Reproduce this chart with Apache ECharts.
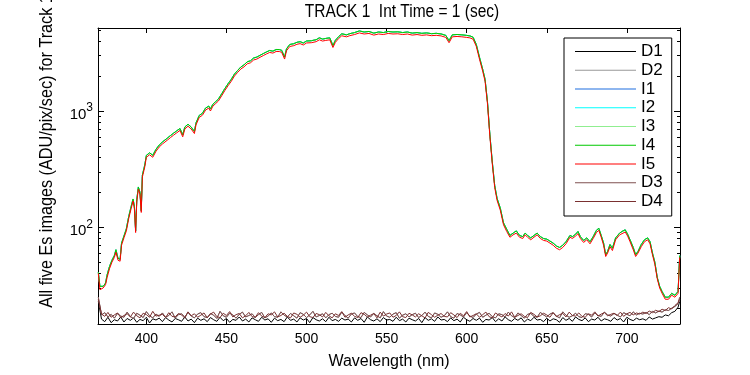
<!DOCTYPE html>
<html><head><meta charset="utf-8">
<script src="https://cdn.jsdelivr.net/npm/echarts@6/dist/echarts.min.js"></script>
<style>html,body{margin:0;padding:0;background:#fff}#c{width:750px;height:375px}</style>
</head><body><div id="c"></div>
<script>
const FONT = "'Liberation Sans',Arial,sans-serif";

// Illuminated-frame wavelengths (nm)
const wl = [
 370, 371, 373, 374.5, 375.5, 377, 378.5, 380, 381, 382.3,
 383.6, 384.5, 386, 387.5, 389, 390.5, 391.7, 392.5, 393.3, 394,
 395, 396, 396.8, 397.5, 399, 400, 402, 404, 406, 408,
 410, 411, 413, 415, 417, 419, 421, 422.7, 424, 426,
 427, 428, 430, 431, 433, 434, 435, 437, 439, 440,
 441.5, 443, 445, 447, 449, 451, 453, 455, 457, 459,
 461, 463, 465, 467, 469, 471, 473, 475, 477, 479,
 481, 483, 484.5, 486.3, 487.5, 489.5, 492, 494, 496, 498,
 500, 503, 506, 508, 510, 512, 514.5, 516.5, 518, 520,
 522, 525, 527, 530, 533, 536, 539, 542, 545, 548,
 551, 554, 557, 560, 563, 566, 569, 572, 575, 578,
 581, 584, 587, 589, 591, 594, 597, 600, 602, 604,
 606, 608, 610, 611.5, 613, 614.5, 616, 617.5, 619, 621,
 623, 625, 627, 629, 631, 633, 635, 636.5, 638, 640,
 642, 644, 646, 648, 650, 652, 654, 656, 658, 660,
 662, 664.5, 666, 668, 669.5, 671, 673, 675, 677, 679,
 681, 682.5, 684, 685.5, 686.8, 688, 689.5, 691, 693, 695.5,
 697, 699, 700.5, 702, 704, 705.5, 707, 709, 711, 713,
 714.5, 716, 717.5, 719, 720.5, 722, 724, 726, 728, 730,
 732, 733
];
// I5 (red, drawn on top of the illuminated frames)
const i5 = [
 40, 29, 30, 32, 37, 44, 50, 55, 61, 52,
 51, 70, 81, 93, 119, 145, 168, 146, 90, 165,
 213, 193, 134, 270, 330, 400, 420, 400, 450, 490,
 520, 500, 560, 590, 620, 650, 680, 600, 700, 740,
 760, 700, 640, 760, 880, 860, 920, 1020, 1060, 1000,
 1100, 1150, 1220, 1350, 1500, 1650, 1800, 2000, 2150, 2300,
 2400, 2550, 2600, 2750, 2800, 2900, 3000, 3100, 3190, 3150,
 3250, 3250, 3200, 2800, 3300, 3590, 3650, 3750, 3800, 3700,
 3850, 3870, 3950, 4100, 4000, 4050, 4100, 3520, 3900, 4200,
 4440, 4350, 4450, 4550, 4700, 4600, 4650, 4500, 4600, 4550,
 4650, 4600, 4620, 4550, 4600, 4500, 4550, 4480, 4520, 4450,
 4480, 4430, 4300, 3870, 4350, 4380, 4350, 4300, 4260, 4150,
 3600, 2790, 2200, 1800, 1150, 600, 350, 220, 170, 140,
 105, 92, 82, 86, 89, 82, 80, 86, 82, 78,
 82, 86, 80, 77, 76, 73, 70, 66, 64, 67,
 72, 82, 80, 84, 88, 80, 74, 78, 72, 80,
 90, 94, 82, 70, 56, 60, 68, 63, 78, 86,
 88, 91, 84, 75, 64, 56, 60, 68, 75, 78,
 72, 58, 48, 36, 30, 27, 24, 24, 26, 25,
 27, 55
];
// I1-I4 (slightly above I5; green fringe)
const iUpper = [
 41, 31, 31, 33, 39, 46, 52, 57, 64, 54,
 53, 73, 84, 97, 124, 151, 175, 152, 93, 172,
 222, 200, 139, 281, 343, 415, 437, 416, 468, 510,
 541, 520, 583, 614, 645, 676, 707, 624, 728, 770,
 790, 728, 666, 790, 915, 894, 957, 1061, 1102, 1040,
 1144, 1196, 1269, 1404, 1560, 1716, 1872, 2080, 2236, 2392,
 2496, 2652, 2704, 2860, 2912, 3016, 3120, 3224, 3318, 3276,
 3380, 3380, 3328, 2912, 3432, 3734, 3796, 3900, 3952, 3848,
 4004, 4025, 4108, 4264, 4160, 4212, 4264, 3661, 4056, 4368,
 4618, 4524, 4628, 4732, 4888, 4784, 4836, 4680, 4784, 4732,
 4836, 4784, 4805, 4732, 4784, 4680, 4732, 4659, 4701, 4628,
 4659, 4607, 4472, 4025, 4524, 4555, 4524, 4472, 4430, 4316,
 3744, 2902, 2288, 1872, 1196, 624, 364, 229, 177, 146,
 109, 96, 85, 89, 93, 85, 83, 89, 85, 81,
 85, 89, 83, 80, 79, 76, 73, 69, 67, 70,
 75, 85, 83, 87, 92, 83, 77, 81, 75, 83,
 94, 98, 85, 73, 58, 62, 71, 66, 81, 89,
 92, 95, 87, 78, 67, 58, 62, 71, 78, 81,
 75, 60, 50, 37, 31, 28, 25, 25, 27, 26,
 28, 57
];

// Dark-frame wavelengths (nm)
const wlDark = [
 370, 372, 374, 376, 378, 380, 382, 384, 386, 388,
 390, 392, 394, 396, 398, 400, 402, 404, 406, 408,
 410, 412, 414, 416, 418, 420, 422, 424, 426, 428,
 430, 432, 434, 436, 438, 440, 442, 444, 446, 448,
 450, 452, 454, 456, 458, 460, 462, 464, 466, 468,
 470, 472, 474, 476, 478, 480, 482, 484, 486, 488,
 490, 492, 494, 496, 498, 500, 502, 504, 506, 508,
 510, 512, 514, 516, 518, 520, 522, 524, 526, 528,
 530, 532, 534, 536, 538, 540, 542, 544, 546, 548,
 550, 552, 554, 556, 558, 560, 562, 564, 566, 568,
 570, 572, 574, 576, 578, 580, 582, 584, 586, 588,
 590, 592, 594, 596, 598, 600, 602, 604, 606, 608,
 610, 612, 614, 616, 618, 620, 622, 624, 626, 628,
 630, 632, 634, 636, 638, 640, 642, 644, 646, 648,
 650, 652, 654, 656, 658, 660, 662, 664, 666, 668,
 670, 672, 674, 676, 678, 680, 682, 684, 686, 688,
 690, 692, 694, 696, 698, 700, 702, 704, 706, 708,
 710, 712, 714, 716, 718, 720, 722, 724, 726, 728,
 730, 732, 733
];
// D1 (black)
const darkA = [
 23, 16.2, 15.4, 16.8, 15.1, 16.0, 15.6, 16.9, 15.3, 16.4,
 15.8, 16.6, 15.2, 16.1, 15.7, 16.8, 15.0, 16.3, 15.9, 16.5,
 15.4, 16.7, 15.9, 15.3, 16.4, 16.0, 15.5, 16.9, 15.6, 16.2,
 15.1, 16.5, 15.8, 16.3, 15.4, 16.7, 16.0, 15.5, 16.8, 15.7,
 16.4, 15.2, 16.1, 15.8, 16.9, 15.6, 16.2, 15.3, 16.6, 16.0,
 15.5, 16.8, 15.9, 16.3, 15.2, 16.5, 15.7, 16.1, 15.4, 16.9,
 15.8, 16.2, 15.3, 16.6, 15.9, 16.4, 15.1, 16.7, 16.0, 15.6,
 16.3, 15.4, 16.8, 15.7, 16.1, 15.5, 16.5, 15.9, 16.2, 15.3,
 16.6, 15.8, 16.4, 15.2, 16.9, 16.0, 15.6, 16.3, 15.4, 16.7,
 15.9, 16.1, 15.5, 16.8, 15.7, 16.2, 15.3, 16.5, 16.0, 15.6,
 16.4, 15.1, 16.7, 15.8, 16.3, 15.5, 16.9, 15.9, 16.1, 15.4,
 16.6, 15.7, 16.2, 15.3, 16.8, 16.0, 15.5, 16.4, 15.8, 16.5,
 15.2, 16.1, 15.9, 16.7, 15.4, 16.3, 15.6, 16.9, 16.0, 15.5,
 16.4, 15.8, 16.6, 15.3, 16.2, 15.7, 16.8, 15.9, 16.1, 15.4,
 16.5, 15.6, 16.3, 16.0, 15.2, 16.7, 15.8, 16.4, 15.5, 16.9,
 16.1, 15.7, 16.6, 15.4, 16.2, 15.9, 16.8, 15.6, 16.3, 16.0,
 15.5, 16.7, 15.9, 16.4, 15.3, 16.8, 16.1, 15.7, 16.5, 16.0,
 16.3, 15.8, 16.9, 16.2, 16.6, 17.0, 16.8, 17.6, 17.3, 18.4,
 18.9, 20.5, 23
];
// D2 and D3
const darkB = [
 25, 17.6, 18.4, 16.9, 17.8, 16.5, 18.1, 17.2, 16.8, 18.6,
 17.0, 16.4, 18.2, 17.5, 16.7, 18.8, 17.3, 16.6, 17.9, 17.1,
 18.3, 16.8, 17.4, 18.7, 16.5, 17.7, 18.0, 16.9, 18.5, 17.2,
 16.6, 17.9, 18.4, 17.0, 16.7, 18.1, 17.5, 16.4, 18.9, 17.3,
 16.8, 18.2, 17.6, 16.5, 17.8, 18.6, 16.9, 17.4, 18.0, 16.7,
 17.7, 18.5, 16.6, 17.2, 18.3, 17.0, 16.8, 18.7, 17.5, 16.9,
 18.1, 17.3, 16.5, 18.4, 17.8, 16.7, 17.6, 18.9, 16.9, 17.4,
 18.0, 16.6, 17.7, 18.2, 17.1, 16.8, 18.6, 17.4, 16.5, 17.9,
 18.3, 17.0, 16.7, 18.5, 17.6, 16.9, 18.1, 17.3, 16.6, 18.8,
 17.2, 16.8, 17.9, 18.4, 16.5, 17.5, 18.0, 16.9, 17.7, 18.2,
 16.7, 17.4, 18.6, 17.1, 16.6, 18.3, 17.8, 16.8, 17.3, 18.7,
 17.0, 16.5, 18.1, 17.6, 16.9, 18.4, 17.2, 16.7, 17.9, 18.5,
 16.8, 17.5, 18.2, 17.0, 16.6, 18.0, 17.7, 16.9, 18.6, 17.3,
 16.7, 18.3, 17.4, 16.5, 17.8, 18.1, 17.1, 16.8, 18.5, 17.6,
 16.9, 17.9, 18.4, 17.2, 16.6, 18.7, 17.5, 16.8, 17.3, 18.2,
 17.0, 16.7, 18.0, 17.8, 16.9, 18.3, 17.4, 17.1, 18.6, 17.6,
 17.2, 18.1, 17.5, 16.9, 18.4, 17.8, 17.3, 18.7, 17.6, 18.2,
 17.9, 18.5, 17.7, 18.9, 18.3, 19.0, 18.6, 19.5, 19.2, 20.1,
 20.8, 22.0, 24
];
// D4
const darkC = [
 24, 17.9, 17.1, 18.5, 16.8, 17.6, 18.3, 16.7, 17.4, 18.0,
 16.9, 18.6, 17.3, 16.6, 18.2, 17.7, 16.8, 18.9, 17.2, 17.5,
 17.8, 16.7, 18.4, 17.1, 16.9, 18.1, 17.6, 16.5, 18.7, 17.3,
 18.0, 16.8, 17.5, 18.3, 16.6, 17.9, 18.6, 17.0, 16.7, 18.2,
 17.4, 18.8, 16.9, 17.7, 18.1, 16.6, 17.3, 18.5, 17.0, 16.8,
 18.4, 17.2, 16.7, 18.0, 17.6, 18.7, 16.9, 17.4, 18.2, 17.1,
 16.6, 18.3, 17.8, 16.8, 17.5, 18.6, 17.0, 16.7, 18.1, 17.7,
 16.9, 18.5, 17.3, 16.6, 18.0, 17.4, 18.8, 16.8, 17.6, 18.2,
 17.1, 16.7, 18.4, 17.8, 16.9, 17.5, 18.1, 16.6, 18.6, 17.2,
 17.9, 18.3, 16.8, 17.4, 18.7, 17.0, 16.7, 18.2, 17.6, 16.9,
 18.0, 17.3, 16.6, 18.5, 17.7, 16.8, 17.5, 18.1, 17.1, 16.9,
 18.4, 17.6, 16.7, 18.2, 17.3, 18.8, 16.9, 17.4, 18.0, 16.8,
 17.7, 18.6, 17.0, 16.6, 18.3, 17.5, 16.9, 18.1, 17.2, 18.7,
 16.8, 17.4, 18.0, 17.1, 16.7, 18.5, 17.8, 16.9, 17.3, 18.2,
 17.6, 16.8, 18.4, 17.0, 17.7, 18.1, 16.9, 18.6, 17.4, 17.2,
 18.3, 17.1, 16.8, 18.0, 17.5, 18.7, 17.2, 17.9, 18.4, 17.3,
 17.8, 18.2, 17.4, 18.6, 17.1, 18.0, 18.5, 17.6, 18.3, 17.9,
 18.6, 18.1, 19.0, 18.4, 19.3, 18.8, 19.7, 19.2, 20.3, 19.8,
 21.2, 22.4, 25
];

const xTicks = [400, 450, 500, 550, 600, 650, 700];
const yMajor = [100, 1000];
const yMinor = [20, 30, 40, 50, 60, 70, 80, 90, 200, 300, 400, 500, 600, 700, 800, 900, 2000, 3000, 4000, 5000];
const seriesNames = ['D1', 'D2', 'I1', 'I2', 'I3', 'I4', 'I5', 'D3', 'D4'];
const seriesColors = ['#000000', '#999999', '#1f6fe0', '#00ffff', '#90ee90', '#00c800', '#ff0000', '#7f5050', '#7a3030'];
const seriesX = [wlDark, wlDark, wl, wl, wl, wl, wl, wlDark, wlDark];
const seriesY = [darkA, darkB, iUpper, iUpper, iUpper, iUpper, i5, darkB, darkC];

const X_MIN = 369.8, X_MAX = 733.2, Y_MIN = 14.7, Y_MAX = 5180;

const chart = echarts.init(document.getElementById('c'), null, {renderer: 'canvas'});
const axisLine = {show: true, onZero: false, lineStyle: {color: '#000', width: 1}};
const xAx = (pos, labels) => ({
  type: 'value', min: X_MIN, max: X_MAX, position: pos,
  axisLine: axisLine,
  axisTick: {show: true, inside: true, length: 5, customValues: xTicks, lineStyle: {color: '#000'}},
  axisLabel: labels ? {show: true, customValues: xTicks, color: '#000', fontSize: 14, fontFamily: FONT, margin: 8} : {show: false},
  splitLine: {show: false},
  name: labels ? 'Wavelength (nm)' : '', nameLocation: 'middle', nameGap: 30,
  nameTextStyle: {color: '#000', fontSize: 16, fontFamily: FONT}
});
const yAx = (pos, major, labels) => ({
  type: 'log', logBase: 10, min: Y_MIN, max: Y_MAX, position: pos,
  axisLine: major ? axisLine : {show: false},
  axisTick: {show: true, inside: true, length: major ? 6 : 3, customValues: major ? yMajor : yMinor, lineStyle: {color: '#000'}},
  axisLabel: labels ? {
    show: true, customValues: yMajor, margin: 5,
    formatter: v => '{b|10}{s|' + Math.round(Math.log10(v)) + '}',
    rich: {
      b: {fontSize: 15, fontFamily: FONT, color: '#000', padding: [8, 0, 0, 0]},
      s: {fontSize: 12, fontFamily: FONT, color: '#000', padding: [0, 0, 6, 0]}
    }
  } : {show: false},
  splitLine: {show: false}, minorTick: {show: false}
});

chart.setOption({
  animation: false,
  backgroundColor: '#fff',
  grid: {left: 98, right: 70, top: 28, bottom: 44, containLabel: false},
  xAxis: [xAx('bottom', true), xAx('top', false)],
  yAxis: [yAx('left', true, true), yAx('left', false, false), yAx('right', true, false), yAx('right', false, false)],
  legend: {
    data: seriesNames, orient: 'vertical', left: 564, top: 38,
    icon: 'rect', itemWidth: 61, itemHeight: 1, itemGap: 1.75,
    padding: [5, 9, 6, 11],
    backgroundColor: '#fff', borderColor: '#000', borderWidth: 1, borderRadius: 0,
    selectedMode: false,
    textStyle: {color: '#000', fontSize: 17, fontFamily: FONT}
  },
  graphic: [
    {type: 'text', x: 47, y: 151, rotation: Math.PI / 2, scaleX: 0.9, z: 100,
     style: {text: 'All five Es images (ADU/pix/sec) for Track 1', font: '18px ' + FONT, fill: '#000',
             textAlign: 'center', textVerticalAlign: 'middle', align: 'center', verticalAlign: 'middle'}},
    {type: 'text', x: 402, y: 12, scaleX: 0.86, z: 100,
     style: {text: 'TRACK 1  Int Time = 1 (sec)', font: '18px ' + FONT, fill: '#000',
             textAlign: 'center', textVerticalAlign: 'middle', align: 'center', verticalAlign: 'middle'}}
  ],
  series: seriesNames.map((name, k) => ({
    name: name, type: 'line', xAxisIndex: 0, yAxisIndex: 0,
    data: seriesX[k].map((x, i) => [x, seriesY[k][i]]),
    symbol: 'none', showSymbol: false, smooth: false,
    color: seriesColors[k],
    itemStyle: {color: seriesColors[k]},
    lineStyle: {color: seriesColors[k], width: 1},
    emphasis: {disabled: true}, silent: true
  }))
});
</script></body></html>
